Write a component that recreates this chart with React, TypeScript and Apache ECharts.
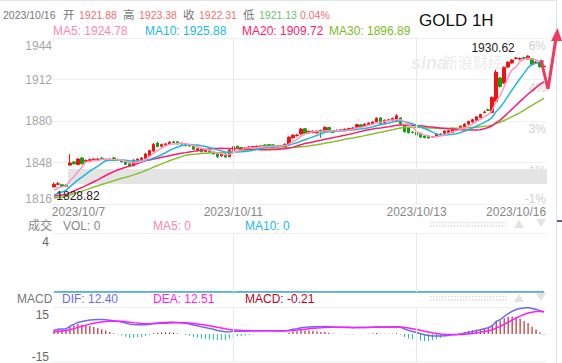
import React, { useEffect, useRef } from "react";
import * as echarts from "echarts";

const FONT = "Arial, 'Liberation Sans', 'Noto Sans CJK SC', sans-serif";

// closes of the 29 hourly bars before the visible window (feed the moving averages / MACD)
const historyCloses = [
  1818.5, 1817.2, 1818, 1816.8, 1817.5, 1818.4, 1817.9, 1818.6, 1817, 1817.9,
  1820.4, 1821.6, 1822.3, 1821, 1820.2, 1821.8, 1822, 1820.6, 1819.8, 1820.3,
  1820.5, 1818.6, 1816.2, 1819.4, 1821.3,
  1823.8, 1825.4, 1826.2, 1827.4,
];

const opens = [
  1829.2, 1831.2, 1830.8, 1830.6, 1846, 1848.4, 1846.5, 1851.5, 1848.8, 1849.5,
  1850, 1850.3, 1851.2, 1850, 1850.5, 1851.5, 1850, 1849.5, 1848.8, 1847,
  1845.5, 1849.8, 1850.4, 1851.2, 1853.3, 1856.8, 1863, 1860.5, 1861.6, 1862.2,
  1864, 1864, 1862.8, 1862, 1861.5, 1861, 1857.5, 1858.5, 1856.5, 1857.2,
  1856, 1854.8, 1853, 1854.6, 1852.5, 1857.4, 1860.6, 1859.5, 1858, 1859.2,
  1860, 1860, 1860.3, 1861.5, 1861.8, 1861.6, 1860.5, 1860.7, 1859.5, 1861.8,
  1867, 1868.8, 1870, 1874, 1870.8, 1871, 1870.8, 1872.8, 1872, 1875,
  1872.4, 1872.5, 1872.6, 1873, 1873.6, 1874, 1875, 1877, 1876.2, 1877.2,
  1877.8, 1879.2, 1882.4, 1878.5, 1880.6, 1880.3, 1880.4, 1882.3, 1876.4, 1874.6,
  1871.4, 1871.4, 1870.6, 1868.4, 1868.4, 1867.6, 1868.2, 1869.6, 1870.5, 1871,
  1871.2, 1873.8, 1874.5, 1875.5, 1877.6, 1879.2, 1880.6, 1882.6, 1886.5, 1888.6,
  1886.6, 1895, 1913.2, 1909.3, 1921.6, 1924.8, 1928.2, 1927.8, 1928.8, 1927.8,
  1928, 1925, 1925.4, 1921.88,
];

const closes = [
  1831.2, 1831.6, 1829.6, 1829.5, 1847.6, 1847, 1850.7, 1847, 1849.5, 1850.2,
  1850.5, 1850.6, 1850.8, 1850.4, 1850.1, 1849.5, 1849.8, 1848.5, 1846.6, 1845.2,
  1849.8, 1850.6, 1851.5, 1854.6, 1857.2, 1862, 1860.3, 1861.8, 1862.3, 1863.6,
  1863.4, 1862.3, 1862.2, 1861, 1860.8, 1858.2, 1858.6, 1856.3, 1857.4, 1856,
  1854.6, 1852.4, 1854.5, 1852.2, 1857.6, 1860.2, 1859.5, 1858, 1859.2, 1860,
  1860.2, 1860.5, 1860.8, 1860.6, 1860.8, 1860.6, 1860.8, 1861, 1862, 1867.5,
  1869, 1869.1, 1873.8, 1870.5, 1872, 1872, 1872.2, 1871.5, 1875, 1872,
  1871.2, 1872.8, 1873.2, 1873.6, 1874.2, 1874.6, 1877.2, 1875.5, 1877.6, 1878.4,
  1879.2, 1882.2, 1877.8, 1880.6, 1880.9, 1882, 1884, 1877.8, 1871.8, 1870.9,
  1871.2, 1869.2, 1867.6, 1867.2, 1866.9, 1867.8, 1869.9, 1869.9, 1872.2, 1872.5,
  1874.4, 1872.8, 1876, 1877.6, 1879.6, 1881, 1883.2, 1885, 1887, 1888.2,
  1898.2, 1917.6, 1906.6, 1921.4, 1925.3, 1927, 1928.6, 1928.2, 1928.4, 1930,
  1923.4, 1925.3, 1921.8, 1922.31,
];

const highs = [
  1832.5, 1833, 1831.4, 1831, 1854.6, 1849, 1851.2, 1852, 1850.5, 1851,
  1851.5, 1851.5, 1852.5, 1851, 1851.5, 1852.5, 1851, 1850, 1849.2, 1847.5,
  1850.5, 1851.2, 1852, 1855.5, 1857.8, 1863, 1864, 1862.5, 1863, 1864.5,
  1864.6, 1864.5, 1863.5, 1862.6, 1862, 1861.5, 1859.5, 1859, 1858.4, 1857.8,
  1856.5, 1855.2, 1855, 1855, 1858.2, 1861, 1861, 1860, 1859.8, 1860.6,
  1860.8, 1861, 1861.4, 1862, 1862.3, 1862, 1861.5, 1861.5, 1862.8, 1868.2,
  1869.8, 1870, 1874.6, 1874.6, 1872.6, 1872.8, 1872.8, 1873.3, 1876, 1875.5,
  1872.8, 1873.5, 1873.8, 1874.2, 1874.8, 1875.2, 1877.8, 1877.6, 1878.2, 1879,
  1879.8, 1882.8, 1883, 1881.2, 1881.6, 1882.6, 1885.2, 1883, 1876.8, 1875.2,
  1872.2, 1871.8, 1871, 1868.8, 1868.8, 1868.4, 1870.4, 1870.6, 1872.8, 1873,
  1875, 1874.3, 1876.6, 1878.2, 1880.2, 1881.6, 1883.8, 1885.6, 1888, 1889.6,
  1899, 1919.5, 1914, 1922, 1926, 1927.6, 1929.4, 1929, 1929.5, 1930.62,
  1928.4, 1926.2, 1925.8, 1923.38,
];

const lows = [
  1828.82, 1830.5, 1829.2, 1829.2, 1845.5, 1846.5, 1846, 1846.5, 1848, 1849,
  1849.5, 1849.6, 1850, 1849.3, 1849.5, 1849, 1849, 1848, 1846, 1844.5,
  1845, 1849, 1849.8, 1850.8, 1852.8, 1856, 1859.8, 1860, 1861, 1861.5,
  1862.8, 1862, 1861.5, 1860.5, 1860, 1857.5, 1856.5, 1855.8, 1856, 1855.2,
  1854, 1851.5, 1852.5, 1851.6, 1852, 1857, 1858.8, 1857.5, 1857.6, 1858.8,
  1859.5, 1859.6, 1859.8, 1860, 1860.2, 1860, 1860, 1860.2, 1859, 1861.2,
  1866.5, 1868, 1869.6, 1870, 1870.2, 1870.5, 1870.3, 1867, 1871.5, 1871.5,
  1870.8, 1872, 1872.2, 1872.6, 1873, 1873.6, 1874.6, 1875, 1875.8, 1876.8,
  1877.3, 1878.8, 1877.4, 1878, 1880, 1879.8, 1880, 1877, 1871.2, 1870.4,
  1870.4, 1868.8, 1867, 1866.6, 1866.4, 1867, 1867.8, 1869.2, 1870, 1870.6,
  1870.8, 1872.3, 1874, 1875, 1877, 1878.8, 1880, 1882.2, 1886, 1887.6,
  1886, 1894.6, 1905.8, 1908.6, 1921, 1924.2, 1927.6, 1927, 1927.8, 1927.4,
  1922.8, 1924.5, 1921.2, 1921.13,
];

const volumeValue = 0;

const dateTicks = [
  { index: 0, label: "2023/10/7" },
  { index: 45, label: "2023/10/11" },
  { index: 91, label: "2023/10/13" },
  { index: 116, label: "2023/10/16" },
];
const dayLines = [45, 91];
const priceMin = 1816;
const priceMax = 1944;
const priceStep = 32;
const pctLabels = ["-1%", "1%", "3%", "4%", "6%"];
const gapBand = [4, 1843, 1831.4];
const volMax = 4;
const macdLimit = 15;

const lastBar = { date: "2023/10/16", open: "1921.88", high: "1923.38", close: "1922.31", low: "1921.13", change: "0.04%" };
const maHeader = { ma5: "1924.78", ma10: "1925.88", ma20: "1909.72", ma30: "1896.89" };
const volHeader = { vol: "0", ma5: "0", ma10: "0" };
const macdHeader = { dif: "12.40", dea: "12.51", macd: "-0.21" };

const C = {
  gray: "#777",
  axis: "#a6a6a6",
  up: "#f50f0f",
  down: "#0ca40c",
  red: "#f07070",
  green: "#69c169",
  ma5: "#ff94c0",
  ma5t: "#ff86b4",
  ma10: "#19b9de",
  ma20: "#ff1a6e",
  ma30: "#86c132",
  ma30t: "#7dbb1a",
  dif: "#6b6bf5",
  dea: "#ff1aff",
  macd: "#c0001c",
  histUp: "#b00000",
  histDown: "#1fbf8f",
  split: "#eeeeee",
};

function buildOption() {
  const H = historyCloses.length;
  const all = historyCloses.concat(closes);
  const cats = closes.map((_, i) => String(i));
  const ma = (n: number) =>
    closes.map((_, i) => {
      let s = 0;
      for (let k = H + i - n + 1; k <= H + i; k++) s += all[k];
      return +(s / n).toFixed(2);
    });
  const dif: number[] = [];
  const dea: number[] = [];
  const hist: number[] = [];
  let e12 = all[0];
  let e26 = all[0];
  let d9 = 0;
  all.forEach((c, k) => {
    if (k > 0) {
      e12 = (e12 * 11 + c * 2) / 13;
      e26 = (e26 * 25 + c * 2) / 27;
    }
    const df = e12 - e26;
    d9 = (d9 * 8 + df * 2) / 10;
    if (k >= H) {
      dif.push(+df.toFixed(3));
      dea.push(+d9.toFixed(3));
      hist.push(+(2 * (df - d9)).toFixed(3));
    }
  });
  const vol = closes.map(() => volumeValue);
  const candles = closes.map((c, i) => [opens[i], c, lows[i], highs[i]]);
  const tickMap: Record<number, string> = {};
  dateTicks.forEach((t) => (tickMap[t.index] = t.label));

  const grids = [
    { left: 52, top: 38, width: 494, height: 166 },
    { left: 52, top: 233, width: 494, height: 59 },
    { left: 52, top: 307, width: 494, height: 58 },
  ];

  const vLines = {
    silent: true,
    symbol: "none",
    label: { show: false },
    lineStyle: { color: "#e8e8e8", type: "solid", width: 1 },
    emphasis: { disabled: true },
    data: dayLines.map((i) => ({ xAxis: i })),
  };

  const xBase = (gi: number, showLabel: boolean) => ({
    type: "category",
    gridIndex: gi,
    data: cats,
    boundaryGap: true,
    axisLine: { show: false },
    axisTick: { show: false },
    splitLine: { show: false },
    axisLabel: showLabel
      ? {
          show: true,
          interval: (i: number) => tickMap[i] !== undefined,
          formatter: (_v: string, i: number) => (i === 0 ? `{first|${tickMap[i]}}` : tickMap[i] || ""),
          color: "#888",
          fontSize: 12,
          fontFamily: FONT,
          margin: 2,
          rich: { first: { padding: [0, 0, 0, 49], color: "#888", fontSize: 12, fontFamily: FONT } },
        }
      : { show: false },
  });

  const lblRich = (color: string) => ({
    top: { padding: [16, 0, 0, 0], color, fontSize: 12, fontFamily: FONT },
    bot: { padding: [0, 0, 11, 0], color, fontSize: 12, fontFamily: FONT },
  });

  const text = (x: number, y: number, t: string, fill: string, size = 12, extra: any = {}) => ({
    type: "text",
    x,
    y,
    silent: true,
    z: 100,
    style: { text: t, fill, font: `${size}px ${FONT}`, textVerticalAlign: "middle", verticalAlign: "middle", ...extra },
  });

  const H1 = 10.5;
  const graphic: any[] = [
    { type: "line", silent: true, shape: { x1: 0, y1: 0.5, x2: 556, y2: 0.5 }, style: { stroke: "#e4e4ef", lineWidth: 1 } },
    { type: "line", silent: true, shape: { x1: 556.5, y1: 0, x2: 556.5, y2: 363 }, style: { stroke: "#dde3ee", lineWidth: 1 } },
    { type: "line", silent: true, shape: { x1: 557, y1: 221, x2: 562, y2: 221 }, style: { stroke: "#1a2a80", lineWidth: 1.5 } },
    text(3, 15, lastBar.date, C.gray, H1),
    text(63, 15, "开", C.gray, 11.5),
    text(79, 15, lastBar.open, C.red, H1),
    text(123, 15, "高", C.gray, 11.5),
    text(139, 15, lastBar.high, C.red, H1),
    text(183, 15, "收", C.gray, 11.5),
    text(199, 15, lastBar.close, C.red, H1),
    text(243, 15, "低", C.gray, 11.5),
    text(259, 15, lastBar.low, C.green, H1),
    text(300, 15, lastBar.change, C.red, H1),
    text(53, 31, `MA5: ${maHeader.ma5}`, C.ma5t),
    text(145, 31, `MA10: ${maHeader.ma10}`, C.ma10),
    text(242, 31, `MA20: ${maHeader.ma20}`, C.ma20),
    text(329, 31, `MA30: ${maHeader.ma30}`, C.ma30t),
    text(419, 20, "GOLD 1H", "#111", 17),
    text(411, 63, "sina", "#ececec", 18, { font: `italic bold 18px ${FONT}` }),
    text(443, 62, "新浪财经", "#ececec", 15),
    text(28, 226, "成交", "#888"),
    text(63, 226, `VOL: ${volHeader.vol}`, "#888"),
    text(153, 226, `MA5: ${volHeader.ma5}`, C.ma5t),
    text(245, 226, `MA10: ${volHeader.ma10}`, C.ma10),
    text(17, 299, "MACD", C.gray),
    text(62, 299, `DIF: ${macdHeader.dif}`, C.dif),
    text(153, 299, `DEA: ${macdHeader.dea}`, C.dea),
    text(245, 299, `MACD: ${macdHeader.macd}`, C.macd),
  ];
  [222, 296].forEach((y) => {
    graphic.push(
      { type: "line", silent: true, shape: { x1: 430, y1: y + 0.5, x2: 507, y2: y + 0.5 }, style: { stroke: "#dadada", lineWidth: 1.5, lineDash: [1.5, 1.5] } },
      { type: "line", silent: true, shape: { x1: 430, y1: y + 4, x2: 507, y2: y + 4 }, style: { stroke: "#dadada", lineWidth: 1.5, lineDash: [1.5, 1.5] } },
      { type: "polygon", silent: true, shape: { points: [[514, y + 6], [524, y + 6], [519, y - 2]] }, style: { fill: "#e2e2e2" } },
      { type: "polygon", silent: true, shape: { points: [[536, y - 3], [546, y - 3], [541, y + 5]] }, style: { fill: "#e2e2e2" } }
    );
  });
  graphic.push(
    { type: "polyline", silent: true, z: 120, shape: { points: [[541, 60], [548, 89], [556, 38]] }, style: { stroke: "#f0395c", lineWidth: 3, fill: null, lineJoin: "miter" } },
    { type: "polygon", silent: true, z: 120, shape: { points: [[557.5, 28], [551, 41], [562, 41]] }, style: { fill: "#f0395c" } }
  );

  return {
    animation: false,
    backgroundColor: "#fff",
    textStyle: { fontFamily: FONT },
    grid: grids,
    xAxis: [xBase(0, true), xBase(1, false), xBase(2, false)],
    yAxis: [
      {
        type: "value",
        gridIndex: 0,
        min: priceMin,
        max: priceMax,
        interval: priceStep,
        axisLine: { show: false },
        axisTick: { show: false },
        splitLine: { lineStyle: { color: C.split } },
        axisLabel: {
          color: C.axis,
          fontSize: 12,
          fontFamily: FONT,
          margin: 0,
          formatter: (v: number) => (v === priceMax ? `{top|${v}}` : v === priceMin ? `{bot|${v}}` : String(v)),
          rich: lblRich(C.axis),
        },
      },
      {
        type: "value",
        gridIndex: 0,
        position: "right",
        min: priceMin,
        max: priceMax,
        interval: priceStep,
        axisLine: { show: false },
        axisTick: { show: false },
        splitLine: { show: false },
        axisLabel: {
          inside: true,
          color: "#d0d0d0",
          fontSize: 12,
          fontFamily: FONT,
          margin: 0,
          formatter: (v: number) => {
            const lab = pctLabels[Math.round((v - priceMin) / priceStep)];
            return v === priceMin ? `{bot|${lab}}` : `{top|${lab}}`;
          },
          rich: lblRich("#d0d0d0"),
        },
      },
      {
        type: "value",
        gridIndex: 1,
        min: 0,
        max: volMax,
        interval: volMax,
        axisLine: { show: false },
        axisTick: { show: false },
        splitLine: { lineStyle: { color: C.split } },
        axisLabel: {
          color: "#666",
          fontSize: 12,
          fontFamily: FONT,
          margin: 3,
          formatter: (v: number) => (v === volMax ? `{top|${v}}` : ""),
          rich: { top: { padding: [18, 0, 0, 0], color: "#666", fontSize: 12, fontFamily: FONT } },
        },
      },
      {
        type: "value",
        gridIndex: 2,
        min: -macdLimit,
        max: macdLimit,
        interval: macdLimit,
        axisLine: { show: false },
        axisTick: { show: false },
        splitLine: { lineStyle: { color: [C.split, "transparent", C.split] } },
        axisLabel: {
          color: "#666",
          fontSize: 12,
          fontFamily: FONT,
          margin: 3,
          formatter: (v: number) => (v === macdLimit ? `{top|${v}}` : v === -macdLimit ? `{bot|${v}}` : ""),
          rich: {
            top: { padding: [16, 0, 0, 0], color: "#666", fontSize: 12, fontFamily: FONT },
            bot: { padding: [0, 0, 8, 0], color: "#666", fontSize: 12, fontFamily: FONT },
          },
        },
      },
    ],
    series: [
      {
        type: "custom",
        xAxisIndex: 0,
        yAxisIndex: 0,
        z: 1,
        silent: true,
        data: [gapBand],
        encode: { x: 0, y: [1, 2] },
        renderItem: (params: any, api: any) => {
          const a = api.coord([api.value(0), api.value(1)]);
          const b = api.coord([api.value(0), api.value(2)]);
          const w = api.size([1, 0])[0];
          const x0 = a[0] - w / 2;
          const xr = params.coordSys.x + params.coordSys.width + 1;
          return { type: "rect", shape: { x: x0, y: a[1], width: xr - x0, height: b[1] - a[1] }, style: { fill: "#e4e4e4" } };
        },
        markLine: vLines,
      },
      {
        type: "candlestick",
        xAxisIndex: 0,
        yAxisIndex: 0,
        z: 3,
        barWidth: 3,
        data: candles,
        itemStyle: { color: C.up, color0: C.down, borderColor: C.up, borderColor0: C.down, borderWidth: 1 },
        markPoint: {
          symbol: "rect",
          symbolSize: 0,
          silent: true,
          label: {
            show: true,
            position: "inside",
            color: "#222",
            fontSize: 12,
            fontFamily: FONT,
            formatter: (p: any) => Number(p.value).toFixed(2),
          },
          data: [
            { type: "max", valueDim: "highest", label: { offset: [-35, -7] } },
            { type: "min", valueDim: "lowest", label: { offset: [24, 9] } },
          ],
        },
      },
      { type: "line", xAxisIndex: 0, yAxisIndex: 0, z: 4, data: ma(30), showSymbol: false, symbol: "none", lineStyle: { color: C.ma30, width: 1.5 } },
      { type: "line", xAxisIndex: 0, yAxisIndex: 0, z: 4, data: ma(20), showSymbol: false, symbol: "none", lineStyle: { color: C.ma20, width: 1.5 } },
      { type: "line", xAxisIndex: 0, yAxisIndex: 0, z: 4, data: ma(10), showSymbol: false, symbol: "none", lineStyle: { color: C.ma10, width: 1.5 } },
      { type: "line", xAxisIndex: 0, yAxisIndex: 0, z: 4, data: ma(5), showSymbol: false, symbol: "none", lineStyle: { color: C.ma5, width: 1.5 } },
      { type: "line", xAxisIndex: 1, yAxisIndex: 2, data: vol, showSymbol: false, symbol: "none", lineStyle: { color: C.ma5, width: 1.5 } },
      { type: "line", xAxisIndex: 1, yAxisIndex: 2, data: vol, showSymbol: false, symbol: "none", lineStyle: { color: C.ma10, width: 1.5 }, markLine: vLines },
      {
        type: "bar",
        xAxisIndex: 2,
        yAxisIndex: 3,
        barWidth: 1,
        data: hist.map((v) => ({ value: v, itemStyle: { color: v >= 0 ? C.histUp : C.histDown } })),
      },
      { type: "line", xAxisIndex: 2, yAxisIndex: 3, data: dif, showSymbol: false, symbol: "none", lineStyle: { color: C.dif, width: 1.5 }, markLine: vLines },
      { type: "line", xAxisIndex: 2, yAxisIndex: 3, data: dea, showSymbol: false, symbol: "none", lineStyle: { color: C.dea, width: 1.5 } },
    ],
    graphic,
  };
}

export default function App() {
  const ref = useRef<HTMLDivElement>(null);
  useEffect(() => {
    if (!ref.current) return;
    const chart = echarts.init(ref.current, null, { renderer: "svg" });
    chart.setOption(buildOption() as any);
    return () => chart.dispose();
  }, []);
  return (
    <div
      ref={ref}
      style={{ position: "absolute", left: 0, top: 0, width: 562, height: 363, background: "#fff" }}
    />
  );
}
